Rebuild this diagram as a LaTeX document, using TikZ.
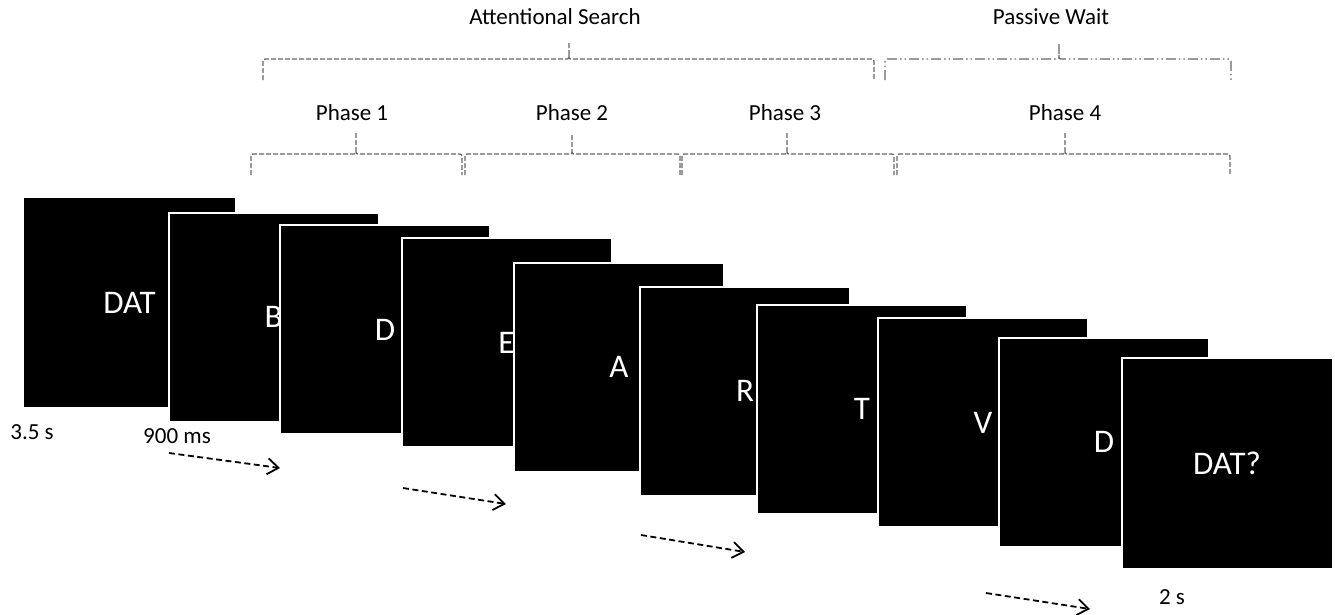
\documentclass[tikz,border=0pt]{standalone}
\usepackage{fontspec}
\setmainfont{Carlito}
\usetikzlibrary{arrows.meta}

\begin{document}
\begin{tikzpicture}
		[x=1pt,y=-1pt,
		 scr/.style= {minimum width=210pt,minimum height=209pt,inner sep=0pt,fill=black,draw=white,line width=2pt,text=white,font=\fontsize{33}{37}\selectfont},
		 lbl/.style= {inner sep=0pt,font=\fontsize{23}{27}\selectfont},
		 dur/.style= {line width=1.8pt,dash pattern=on 6pt off 3.5pt,-{Straight Barb[length=11pt,width=16pt,line width=1.8pt]}},
		 brc/.style= {black!60,line width=1.3pt,dash pattern=on 5pt off 2pt},
		 brcw/.style= {black!60,line width=1.3pt,dash pattern=on 10pt off 3pt on 1.5pt off 3pt on 1.5pt off 3pt}]

		\useasboundingbox (0,0) rectangle (1335,614);

		% letter screens
		\node[scr,minimum width=213pt,minimum height=211pt] (s1) at (129.5,302.5) {DAT};
		\node[scr] (s2) at (273.5,317) {B};
		\node[scr] (s3) at (385,329.5) {D};
		\node[scr] (s4) at (506.5,342.5) {E};
		\node[scr] (s5) at (619,367) {A};
		\node[scr] (s6) at (745,391) {R};
		\node[scr] (s7) at (862,409) {T};
		\node[scr] (s8) at (983,422.5) {V};
		\node[scr] (s9) at (1104,442) {D};
		\node[scr,minimum width=211pt,minimum height=211pt] (s10) at (1227,463.5) {DAT?};

		% durations
		\node[lbl] (t1) at (32,432) {3.5 s};
		\node[lbl] (t2) at (177,436) {900 ms};
		\node[lbl] (t3) at (1172,597) {2 s};

		\foreach \i/\ax/\ay/\bx/\by in {1/169/453/280/468,2/403/488/506/504,3/641/535/745/552,4/986/593/1090/609}
		{
			\coordinate (a\i) at (\ax,\ay);
			\coordinate (b\i) at (\bx,\by);
			\draw[dur] (a\i) -- (b\i);
		}

		% phases
		\node[lbl] (p1) at (352,113) {Phase 1};
		\node[lbl] (p2) at (572,113) {Phase 2};
		\node[lbl] (p3) at (785,113) {Phase 3};
		\node[lbl] (p4) at (1065,113) {Phase 4};

		\foreach \xa/\xm/\xb in {251/356/462,465/572/680,682/787/894,897/1065/1230}
			\draw[brc] (\xa,175) -- (\xa,159) .. controls (\xa,154) .. ({\xa+5},154) -- ({\xm-4},154) .. controls (\xm,154) .. (\xm,150) -- (\xm,133)
				(\xm,150) .. controls (\xm,154) .. ({\xm+4},154) -- ({\xb-5},154) .. controls (\xb,154) .. (\xb,159) -- (\xb,175);

		% search and wait
		\node[lbl] (h1) at (555,17) {Attentional Search};
		\node[lbl] (h2) at (1051,17) {Passive Wait};

		\draw[brc] (263,80) -- (263,64) .. controls (263,59) .. (268,59) -- (565,59) .. controls (569,59) .. (569,55) -- (569,43)
			(569,55) .. controls (569,59) .. (573,59) -- (869,59) .. controls (874,59) .. (874,64) -- (874,80);
		\draw[brcw] (885,80) -- (885,64) .. controls (885,59) .. (890,59) -- (1055,59) .. controls (1059,59) .. (1059,55) -- (1059,43)
			(1059,55) .. controls (1059,59) .. (1063,59) -- (1226,59) .. controls (1231,59) .. (1231,64) -- (1231,80);

	\end{tikzpicture}
\end{document}
